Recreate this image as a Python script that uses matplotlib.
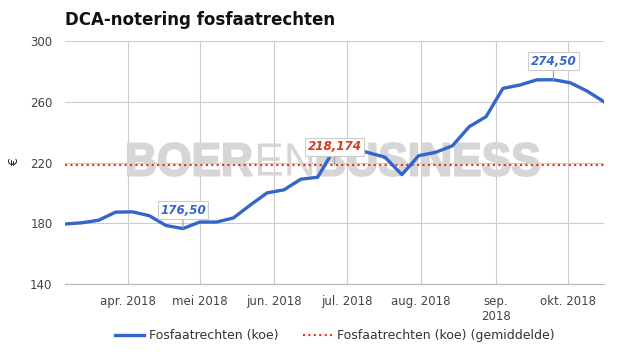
import matplotlib
matplotlib.use("Agg")
import matplotlib.pyplot as plt
import numpy as np
import pandas as pd
from matplotlib.textpath import TextPath
from matplotlib.font_manager import FontProperties
from matplotlib.patches import PathPatch
from matplotlib.path import Path
from matplotlib.transforms import Affine2D

# weekly DCA quotations for phosphate rights (cow)
dates = pd.date_range("2018-03-06", periods=33, freq="7D")
prices = [179.5, 180.3, 182.0, 187.3, 187.5, 185.0, 178.5, 176.5, 180.8, 180.8,
          183.5, 192.0, 200.0, 202.0, 209.0, 210.3, 229.0, 229.5, 226.5, 223.5,
          212.0, 224.5, 226.7, 231.0, 243.6, 250.2, 268.8, 271.0, 274.4, 274.5,
          272.5, 267.0, 260.0]
mean_value = 218.174
mean_label_idx = 16

month_ticks = pd.date_range("2018-04-01", periods=7, freq="MS")
month_labels = ["apr. 2018", "mei 2018", "jun. 2018", "jul. 2018",
                "aug. 2018", "sep.\n2018", "okt. 2018"]
y_ticks = [140, 180, 220, 260, 300]
series_names = ["Fosfaatrechten (koe)", "Fosfaatrechten (koe) (gemiddelde)"]

BLUE = "#3366cc"
RED = "#dc3912"
WM = "#d6d6d6"

plt.rcParams["font.family"] = ["DejaVu Sans"]

fig = plt.figure(figsize=(6.25, 3.55), dpi=100)
ax = fig.add_axes([65 / 625, 1 - 284 / 355, 539 / 625, 243 / 355])

ax.plot(dates, prices, color=BLUE, lw=2.4, zorder=4, label=series_names[0],
        solid_joinstyle="round")
ax.axhline(mean_value, color=RED, lw=1.5, ls=(0, (1.0, 1.6)), zorder=3,
           label=series_names[1])

ax.set_xlim(dates[0], dates[-1])
ax.set_ylim(140, 300)
ax.set_yticks(y_ticks)
ax.set_xticks(month_ticks)
ax.set_xticklabels(month_labels)
ax.tick_params(length=0, labelsize=8.5, labelcolor="#444444")
ax.tick_params(axis="y", pad=9)
ax.tick_params(axis="x", pad=8)
ax.grid(True, color="#cccccc", lw=0.8)
ax.set_axisbelow(True)
for s in ["top", "right", "left"]:
    ax.spines[s].set_visible(False)
ax.spines["bottom"].set_color("#bbbbbb")
ax.spines["bottom"].set_linewidth(0.9)

# watermark, squeezed into the box it takes in the original
fp_b = FontProperties(family="Liberation Sans", weight="bold")
fp_n = FontProperties(family="Liberation Sans", weight="normal")
heavy, light = [], []
x0 = 0.0
for word, fp in [("BOER", fp_b), ("EN", fp_n), ("BUSINESS", fp_b)]:
    tp = TextPath((x0, 0), word, size=10, prop=fp)
    (heavy if fp is fp_b else light).append(tp)
    x0 = tp.get_extents().x1 + 0.5
bb = Path.make_compound_path(*heavy, *light).get_extents()
fx0, fx1 = 128 / 625, 539 / 625
fy0, fy1 = 1 - 176 / 355, 1 - 143 / 355
tr = (Affine2D().translate(-bb.x0, -bb.y0)
      .scale((fx1 - fx0) / bb.width, (fy1 - fy0) / bb.height)
      .translate(fx0, fy0) + fig.transFigure)
ax.add_artist(PathPatch(Path.make_compound_path(*heavy), transform=tr, fc=WM,
                        ec=WM, lw=1.4, joinstyle="round", zorder=2))
ax.add_artist(PathPatch(Path.make_compound_path(*light), transform=tr, fc=WM,
                        ec="none", zorder=2))

def label(i, y, text, color):
    ax.annotate(text, xy=(dates[i], y), xytext=(0, 18.5),
                textcoords="offset pixels", ha="center", va="center",
                fontsize=8.6, fontweight="bold", fontstyle="italic", color=color,
                bbox=dict(boxstyle="square,pad=0.2", fc="white", ec="#cccccc",
                          lw=0.8),
                arrowprops=dict(arrowstyle="-", color="#999999", lw=0.8,
                                shrinkA=0, shrinkB=0),
                zorder=6)

i_min = int(np.argmin(prices))
i_max = int(np.argmax(prices))
label(i_min, prices[i_min], f"{prices[i_min]:.2f}".replace(".", ","), BLUE)
label(i_max, prices[i_max], f"{prices[i_max]:.2f}".replace(".", ","), BLUE)
label(mean_label_idx, mean_value, f"{mean_value:.3f}".replace(".", ","), RED)

fig.text(65 / 625, 1 - 20 / 355, "DCA-notering fosfaatrechten", fontsize=12,
         fontweight="bold", ha="left", va="center", color="#111111")
fig.text(15 / 625, 1 - 162 / 355, "€", fontsize=9, rotation=90, ha="center",
         va="center", color="#222222")

fig.legend(loc="center", bbox_to_anchor=(0.536, 1 - 336 / 355), ncol=2,
           frameon=False, fontsize=9, handlelength=2.3, handletextpad=0.4,
           columnspacing=2.0, labelcolor="#333333")

fig.savefig("out.png", dpi=100, facecolor="white")
